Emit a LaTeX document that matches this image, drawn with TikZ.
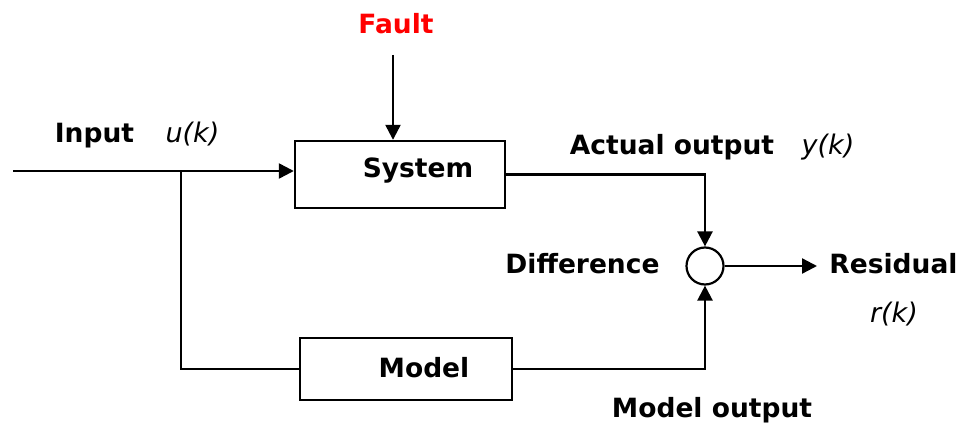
\documentclass[tikz,border=0pt]{standalone}
\usepackage{fontspec}
\setmainfont{DejaVu Sans}
\usetikzlibrary{arrows.meta}
\definecolor{faultred}{RGB}{255,0,0}
\begin{document}
\begin{tikzpicture}[x=1pt,y=-1pt,
  line width=2.4pt,
  blk/.style={draw, line width=2.4pt, inner sep=0pt},
  lbl/.style={anchor=base, font=\fontsize{26.5}{30}\selectfont\bfseries, inner sep=0pt},
  var/.style={anchor=base, font=\fontsize{27}{30}\selectfont\itshape, inner sep=0pt},
  sig/.style={-{Triangle[length=15pt,width=15pt]}},
]
\useasboundingbox (0,0) rectangle (959,425);

% blocks
\node[blk, minimum width=210pt, minimum height=67pt] (sys) at (400,174.5) {};
\node[blk, minimum width=212pt, minimum height=62pt] (model) at (406,369) {};
\node[draw, circle, minimum size=37pt, line width=2.2pt, inner sep=0pt] (diff) at (705,266) {};

% block texts
\node[lbl] (systxt) at (418,178) {System};
\node[lbl] (modeltxt) at (424,377) {Model};

% signal labels
\node[lbl, text=faultred] (fault) at (396,34) {Fault};
\node[lbl] (input) at (94.5,143) {Input};
\node[var] (uk) at (192.5,143) {u(k)};
\node[lbl] (actual) at (672,155) {Actual output};
\node[var] (yk) at (828,155) {y(k)};
\node[lbl] (difftxt) at (582.5,273) {Difference};
\node[lbl] (residual) at (893.5,273) {Residual};
\node[var] (rk) at (894,322) {r(k)};
\node[lbl] (modelout) at (712,417) {Model output};

% connectors
\coordinate (in) at (13,171);
\coordinate (br) at (181,171);
\coordinate (ftop) at (393,55);
\coordinate (res) at (817,266);

\draw[sig] (in) -- (in -| sys.west);
\draw (br) |- (model.west);
\draw[sig] (ftop) -- (ftop |- sys.north);
\draw[sig] (sys.east) -| (diff.north);
\draw[sig] (model.east) -| (diff.south);
\draw[sig] (diff.east) -- (res);
\end{tikzpicture}
\end{document}
